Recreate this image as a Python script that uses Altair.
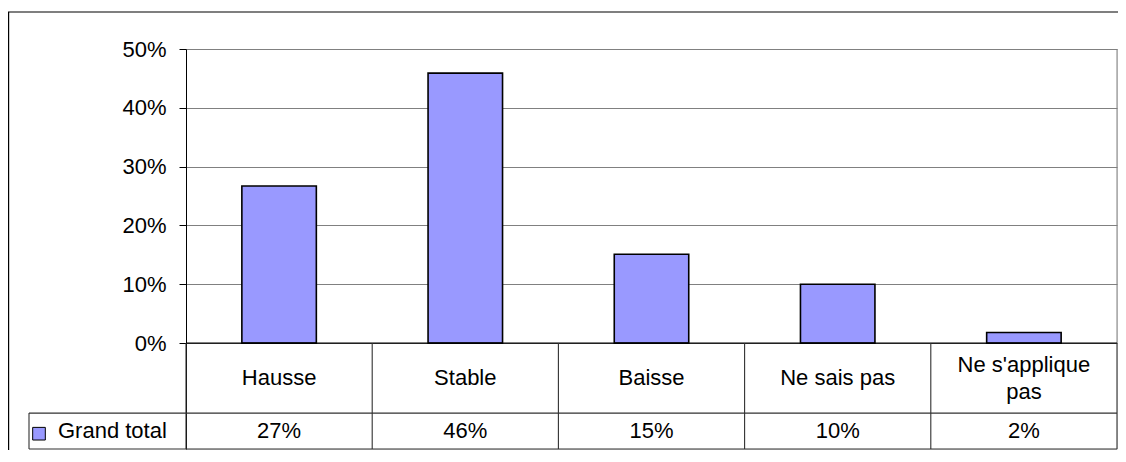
import altair as alt
import pandas as pd

# ---- data ----
categories = ["Hausse", "Stable", "Baisse", "Ne sais pas", "Ne s'applique pas"]
category_labels = ["Hausse", "Stable", "Baisse", "Ne sais pas", "Ne s'applique\npas"]
values = [26.7, 45.9, 15.1, 10.0, 1.8]
table_values = ["27%", "46%", "15%", "10%", "2%"]
series_name = ["Grand total"]
y_ticks = [0, 10, 20, 30, 40, 50]

# ---- layout constants (value units on the y scale, below zero = data table) ----
Y_TOP = 50
Y_BOTTOM = -18.0      # bottom of data table
ROW_SPLIT = -11.9     # line between category row and value row
CAT_ROW = -5.95       # centre of category row
VAL_ROW = -15.0       # centre of value row

FONT = "Liberation Sans"
FS = 22
LINE_H = 27
BAR_COLOR = "#9999FF"
TABLE_LINE = "#303030"
GRID = "#808080"

df = pd.DataFrame({"cat": categories, "label": category_labels,
                   "value": values, "tv": table_values})
legend_df = pd.DataFrame({"name": series_name})

x_enc = alt.X("cat:N", sort=categories, axis=None,
              scale=alt.Scale(paddingInner=0, paddingOuter=0))

yscale = alt.Scale(domain=[Y_BOTTOM, Y_TOP], nice=False, zero=False)

bars = alt.Chart(df).mark_bar(
    width=alt.RelativeBandSize(0.4), color=BAR_COLOR, stroke="black", strokeWidth=1.6
).encode(
    x=x_enc,
    y=alt.Y("value:Q", scale=yscale, title=None,
            axis=alt.Axis(values=y_ticks, labelExpr="datum.value + '%'",
                          tickSize=7, labelPadding=13, labelFontSize=FS,
                          labelFont=FONT, labelColor="black",
                          domainColor="black", tickColor="black",
                          gridColor=GRID, gridWidth=1)),
    y2=alt.datum(0),
)

# right border of plot area (gray) above zero
right_plot = alt.Chart(legend_df).mark_rule(color=GRID).encode(
    x=alt.value("width"), y=alt.datum(Y_TOP), y2=alt.datum(0))

# zero line
zero_line = alt.Chart(legend_df).mark_rule(color="black", strokeWidth=1.2).encode(
    x=alt.value(0), x2=alt.value("width"), y=alt.datum(0))

# table horizontal lines (extend under legend cell)
hlines = alt.Chart(pd.DataFrame({"y": [ROW_SPLIT, Y_BOTTOM]})).mark_rule(
    color=TABLE_LINE, strokeWidth=1.2).encode(
    x=alt.value(-157), x2=alt.value("width"), y="y:Q")

# table vertical dividers at category boundaries
vlines = alt.Chart(df).mark_rule(color=TABLE_LINE, strokeWidth=1.1).encode(
    x=alt.X("cat:N", sort=categories, bandPosition=0),
    y=alt.datum(0), y2=alt.datum(Y_BOTTOM))
vline_right = alt.Chart(legend_df).mark_rule(color=TABLE_LINE, strokeWidth=1.1).encode(
    x=alt.value("width"), y=alt.datum(0), y2=alt.datum(Y_BOTTOM))
vline_legend = alt.Chart(legend_df).mark_rule(color=TABLE_LINE, strokeWidth=1.1).encode(
    x=alt.value(-157), y=alt.datum(ROW_SPLIT), y2=alt.datum(Y_BOTTOM))

# category labels (single-line and two-line handled separately to centre the block)
cat_text_1 = alt.Chart(df).transform_filter(
    "indexof(datum.label, '\\n') < 0"
).mark_text(
    font=FONT, fontSize=FS, color="black", baseline="middle", align="center").encode(
    x=alt.X("cat:N", sort=categories), y=alt.datum(CAT_ROW), text="label:N")
cat_text_2 = alt.Chart(df).transform_filter(
    "indexof(datum.label, '\\n') >= 0"
).mark_text(
    font=FONT, fontSize=FS, color="black", baseline="middle", align="center",
    lineBreak="\n", lineHeight=LINE_H, dy=-LINE_H / 2).encode(
    x=alt.X("cat:N", sort=categories), y=alt.datum(CAT_ROW), text="label:N")

# value labels
val_text = alt.Chart(df).mark_text(
    font=FONT, fontSize=FS, color="black", baseline="middle", align="center").encode(
    x=alt.X("cat:N", sort=categories), y=alt.datum(VAL_ROW), text="tv:N")

# legend key and name
legend_key = alt.Chart(legend_df).mark_square(
    size=160, color=BAR_COLOR, stroke="black", strokeWidth=1, opacity=1).encode(
    x=alt.value(-147), y=alt.datum(VAL_ROW - 0.4))
legend_text = alt.Chart(legend_df).mark_text(
    font=FONT, fontSize=FS, color="black", baseline="middle", align="left").encode(
    x=alt.value(-128), y=alt.datum(VAL_ROW), text="name:N")

# outer chart border (top and left)
outer_top = alt.Chart(legend_df).mark_rule(color="black", strokeWidth=1.2).encode(
    x=alt.value(-178), x2=alt.value(940), y=alt.value(-37))
outer_left = alt.Chart(legend_df).mark_rule(color="black", strokeWidth=1.2).encode(
    x=alt.value(-177.4), y=alt.value(-37), y2=alt.value(410))

chart = alt.layer(
    bars, right_plot, zero_line, hlines, vlines, vline_right, vline_legend,
    cat_text_1, cat_text_2, val_text, legend_key, legend_text, outer_top, outer_left
).properties(
    width=931, height=400,
    autosize=alt.AutoSizeParams(type="none"),
    padding={"left": 178, "top": 41, "right": 1, "bottom": 1},
).configure_view(stroke=None).configure(background="white")

chart.save("out.html", embed_options={"renderer": "svg", "actions": False})
